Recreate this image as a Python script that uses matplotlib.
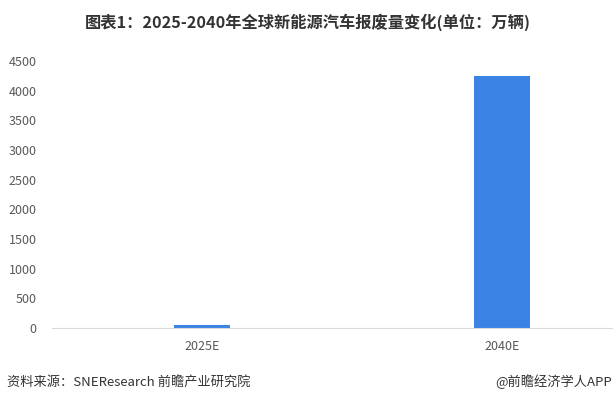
import matplotlib.pyplot as plt

plt.rcParams['font.family'] = ['Noto Sans CJK SC', 'DejaVu Sans']

categories = ['2025E', '2040E']
values = [55, 4250]
yticks = [0, 500, 1000, 1500, 2000, 2500, 3000, 3500, 4000, 4500]

fig = plt.figure(figsize=(6.13, 4.07), dpi=100)
ax = fig.add_axes([52 / 613, 79 / 407, 561 / 613, 267 / 407])

ax.bar(range(len(categories)), values, width=0.187, color='#3A82E4')
ax.set_xlim(-0.5, 1.37)
ax.set_ylim(0, 4500)
ax.set_xticks(range(len(categories)))
ax.set_xticklabels(categories)
ax.set_yticks(yticks)

for side in ['top', 'right', 'left']:
    ax.spines[side].set_visible(False)
ax.spines['bottom'].set_color('#d9d9d9')
ax.tick_params(axis='both', length=0, labelsize=9, labelcolor='#595959')
ax.tick_params(axis='x', pad=9)
ax.tick_params(axis='y', pad=11)

fig.text(0.503, 0.946, '图表1：2025-2040年全球新能源汽车报废量变化(单位：万辆)',
         ha='center', va='center', fontsize=11.7, fontweight='bold', color='#333333')
fig.text(0.012, 0.062, '资料来源：SNEResearch 前瞻产业研究院',
         ha='left', va='center', fontsize=9.5, color='#333333')
fig.text(0.999, 0.062, '@前瞻经济学人APP',
         ha='right', va='center', fontsize=9.5, color='#333333')

fig.savefig('out.png', dpi=100)
